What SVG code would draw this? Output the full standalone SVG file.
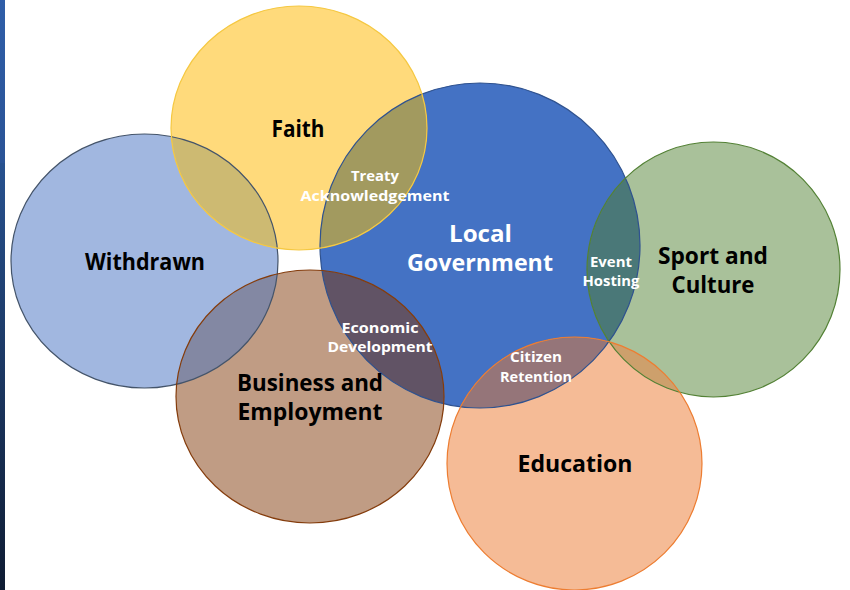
<svg xmlns="http://www.w3.org/2000/svg" xmlns:xlink="http://www.w3.org/1999/xlink" width="850" height="590" viewBox="0 0 850 590">
<style>
.big{font-family:"Open Sans","Liberation Sans",sans-serif;font-weight:700;font-size:23.5px;fill:#000;text-anchor:middle}
.small{font-family:"Open Sans","Liberation Sans",sans-serif;font-weight:700;font-size:15px;fill:#fff;text-anchor:middle}
.lg{fill:#fff}
.edge{fill:none;stroke-width:1.2}
</style>
<defs>
<linearGradient id="barTop" x1="0" y1="0" x2="0" y2="1"><stop offset="0" stop-color="#2f5ea8"/><stop offset="1" stop-color="#2a5396"/></linearGradient>
<linearGradient id="barBot" x1="0" y1="0" x2="0" y2="1"><stop offset="0" stop-color="#27518f"/><stop offset="1" stop-color="#0f1c33"/></linearGradient>
<ellipse id="eF" cx="299" cy="128" rx="128" ry="122"/>
<ellipse id="eW" cx="144.5" cy="261" rx="133.5" ry="127"/>
<ellipse id="eL" cx="480" cy="245.5" rx="160" ry="162.5"/>
<ellipse id="eS" cx="713.5" cy="269.5" rx="126.5" ry="127.5"/>
<ellipse id="eB" cx="310" cy="396.5" rx="134" ry="126.5"/>
<ellipse id="eE" cx="574.5" cy="463.5" rx="127.5" ry="126.5"/>
<clipPath id="cF"><use xlink:href="#eF"/></clipPath>
<clipPath id="cW"><use xlink:href="#eW"/></clipPath>
<clipPath id="cL"><use xlink:href="#eL"/></clipPath>
<clipPath id="cS"><use xlink:href="#eS"/></clipPath>
<clipPath id="cB"><use xlink:href="#eB"/></clipPath>
</defs>
<rect x="0" y="0" width="850" height="590" fill="#fff"/>
<rect x="0" y="0" width="5" height="163" fill="url(#barTop)"/>
<rect x="0" y="163" width="5" height="427" fill="url(#barBot)"/>

<g id="fills">
<use xlink:href="#eW" fill="#a1b7e0"/>
<use xlink:href="#eL" fill="#4472c4"/>
<use xlink:href="#eS" fill="#a9c19a"/>
<use xlink:href="#eB" fill="#c09c84"/>
<use xlink:href="#eE" fill="#f5bb96"/>
<use xlink:href="#eF" fill="#ffda7b"/>
</g>
<g id="overlaps">
<use xlink:href="#eW" fill="#cdba72" clip-path="url(#cF)"/>
<use xlink:href="#eL" fill="#a29a5f" clip-path="url(#cF)"/>
<use xlink:href="#eW" fill="#8388a3" clip-path="url(#cB)"/>
<use xlink:href="#eL" fill="#615365" clip-path="url(#cB)"/>
<use xlink:href="#eL" fill="#4a7878" clip-path="url(#cS)"/>
<use xlink:href="#eE" fill="#957579" clip-path="url(#cL)"/>
<use xlink:href="#eE" fill="#cda06c" clip-path="url(#cS)"/>
</g>

<g id="withdrawn">
<use xlink:href="#eW" class="edge" stroke="#44546a"/>
<text class="big" x="145" y="270" textLength="120" lengthAdjust="spacingAndGlyphs">Withdrawn</text>
</g>
<g id="local-government">
<use xlink:href="#eL" class="edge" stroke="#2f528f"/>
<text class="big lg" x="480.5" y="242" textLength="63" lengthAdjust="spacingAndGlyphs">Local</text>
<text class="big lg" x="480" y="271" textLength="146" lengthAdjust="spacingAndGlyphs">Government</text>
</g>
<g id="sport-and-culture">
<use xlink:href="#eS" class="edge" stroke="#538135"/>
<text class="big" x="713" y="264" textLength="110" lengthAdjust="spacingAndGlyphs">Sport and</text>
<text class="big" x="713" y="293" textLength="83" lengthAdjust="spacingAndGlyphs">Culture</text>
</g>
<g id="business-and-employment">
<use xlink:href="#eB" class="edge" stroke="#843c0c"/>
<text class="big" x="310" y="391" textLength="146" lengthAdjust="spacingAndGlyphs">Business and</text>
<text class="big" x="310" y="420" textLength="145" lengthAdjust="spacingAndGlyphs">Employment</text>
</g>
<g id="education">
<use xlink:href="#eE" class="edge" stroke="#ed7d31"/>
<text class="big" x="575" y="472" textLength="115" lengthAdjust="spacingAndGlyphs">Education</text>
</g>
<g id="faith">
<use xlink:href="#eF" class="edge" stroke="#f5c842"/>
<text class="big" x="298" y="137" textLength="53" lengthAdjust="spacingAndGlyphs">Faith</text>
</g>

<g id="treaty-acknowledgement">
<text class="small" x="375" y="181" textLength="48" lengthAdjust="spacingAndGlyphs">Treaty</text>
<text class="small" x="375" y="201" textLength="149" lengthAdjust="spacingAndGlyphs">Acknowledgement</text>
</g>
<g id="economic-development">
<text class="small" x="380" y="333" textLength="77" lengthAdjust="spacingAndGlyphs">Economic</text>
<text class="small" x="380" y="352" textLength="105" lengthAdjust="spacingAndGlyphs">Development</text>
</g>
<g id="event-hosting">
<text class="small" x="611" y="267" textLength="42" lengthAdjust="spacingAndGlyphs">Event</text>
<text class="small" x="611" y="286" textLength="57" lengthAdjust="spacingAndGlyphs">Hosting</text>
</g>
<g id="citizen-retention">
<text class="small" x="536" y="362" textLength="52" lengthAdjust="spacingAndGlyphs">Citizen</text>
<text class="small" x="536" y="382" textLength="72" lengthAdjust="spacingAndGlyphs">Retention</text>
</g>
<g id="connectors"/>
</svg>
